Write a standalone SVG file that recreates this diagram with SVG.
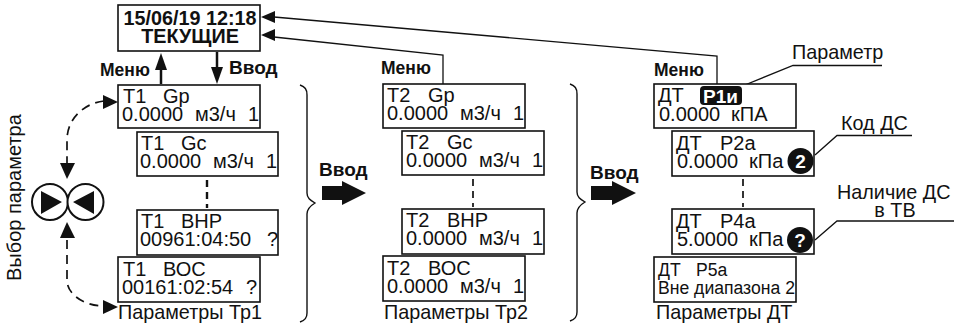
<svg xmlns="http://www.w3.org/2000/svg" width="956" height="326" viewBox="0 0 956 326">
<style>
text{font-family:"Liberation Sans",Arial,sans-serif;fill:#111}
.b{fill:#fff;stroke:#111;stroke-width:1.6}
.t{font-size:20px}
.m{font-size:19.8px}
.k{font-size:17.500px;font-weight:bold}
.v{font-size:19px;font-weight:bold}
.h1{font-size:19.8px;font-weight:bold}
.l{fill:none;stroke:#111;stroke-width:1.3}
.d{fill:none;stroke:#111;stroke-width:1.7;stroke-dasharray:9 6}
.w{fill:#fff;font-weight:bold;font-size:19px}
.s{font-size:17.6px}
</style>
<defs>
<path id="brace" d="M0 0C5 2 7 4 7 10V108C7 113 10 115 15 118C10 121 7 124 7 129V228C7 233 5 235 0 237" fill="none" stroke="#111" stroke-width="1.4"/>
</defs>
<g id="connectors">
<path class="l" d="M274 17L717 56V84"/>
<path class="l" d="M274 37L443 55V84"/>
<path d="M261 17L275 11L275 23Z" fill="#111"/>
<path d="M261 35L275 29L275 41Z" fill="#111"/>
<path d="M161 84V60" stroke="#111" stroke-width="2.500"/><path d="M161 53L155 70H167Z" fill="#111"/>
<path d="M217 52V70" stroke="#111" stroke-width="2.500"/><path d="M217 84L211 67H223Z" fill="#111"/>
<path class="d" d="M104 101C85 103 67 118 67 140V166"/><path d="M118 102L103 95V109Z" fill="#111"/>
<path d="M67 179L60 163H75Z" fill="#111"/>
<path class="d" d="M67 240V280C67 295 85 306 104 306"/><path d="M67 222L60 238H75Z" fill="#111"/>
<path d="M118 307L103 300V314Z" fill="#111"/>
<path class="d" d="M207 180V208" style="stroke-width:2.400;stroke-dasharray:7 5"/>
<path class="d" d="M473 179V207" style="stroke-dasharray:7 5"/>
<path class="d" d="M743 179V207" style="stroke-dasharray:7 5"/>
<path d="M322 186H342V181L366 193L342 205V200H322Z" fill="#111"/>
<path d="M591 186H612V181L636 193L612 205V200H591Z" fill="#111"/>
<path class="l" d="M740 87L793 65.500H882"/>
<path class="l" d="M815 155L837 135.500H912"/>
<path class="l" d="M815 240L837 221H954"/>
</g>
<g id="brace1"><use href="#brace" transform="translate(300,85)"/></g>
<g id="brace2"><use href="#brace" transform="translate(570,84)"/></g>
<g id="main"><rect class="b" x="118" y="5" width="142" height="46"/>
<text class="h1" x="190" y="25" text-anchor="middle">15/06/19 12:18</text>
<text class="h1" x="190" y="43" text-anchor="middle">ТЕКУЩИЕ</text></g>
<g id="labels-top">
<text class="k" x="100" y="76">Меню</text>
<text class="v" x="229" y="74">Ввод</text>
<text class="k" x="381" y="74">Меню</text>
<text class="v" x="319" y="176">Ввод</text>
<text class="v" x="590" y="179">Ввод</text>
<text class="k" x="654" y="76">Меню</text>
</g>
<text id="side" transform="translate(21,281) rotate(-90)" style="font-size:20px">Выбор параметра</text>
<g id="selector"><circle cx="50" cy="202" r="18" fill="#fff" stroke="#111" stroke-width="2"/><circle cx="85.500" cy="202" r="18" fill="#fff" stroke="#111" stroke-width="2"/><path d="M41 191V214L62 202ZM94 191V214L73 202Z" fill="#111"/></g>
<g id="t1gp"><rect class="b" x="118" y="85" width="142" height="43"/><text class="t" y="103"><tspan x="123">Т1</tspan><tspan x="163">Gр</tspan></text><text class="t" y="121"><tspan x="122">0.0000</tspan><tspan x="195">м3/ч</tspan><tspan x="248">1</tspan></text></g>
<g id="t1gc"><rect class="b" x="137" y="132" width="141" height="44"/><text class="t" y="150"><tspan x="141">Т1</tspan><tspan x="181">Gс</tspan></text><text class="t" y="168"><tspan x="140">0.0000</tspan><tspan x="213">м3/ч</tspan><tspan x="266">1</tspan></text></g>
<g id="t1bnr"><rect class="b" x="137" y="210" width="141" height="45"/><text class="t" y="228"><tspan x="141">Т1</tspan><tspan x="181">ВНР</tspan></text><text class="t" y="246"><tspan x="140">00961:04:50</tspan><tspan x="267">?</tspan></text></g>
<g id="t1boc"><rect class="b" x="118" y="257" width="142" height="45"/><text class="t" y="276"><tspan x="123">Т1</tspan><tspan x="163">ВОС</tspan></text><text class="t" y="294"><tspan x="122">00161:02:54</tspan><tspan x="246">?</tspan></text></g>
<g id="t2gp"><rect class="b" x="383" y="84" width="142" height="44"/><text class="t" y="102"><tspan x="387">Т2</tspan><tspan x="428">Gр</tspan></text><text class="t" y="120"><tspan x="387">0.0000</tspan><tspan x="460">м3/ч</tspan><tspan x="513">1</tspan></text></g>
<g id="t2gc"><rect class="b" x="402" y="131" width="142" height="44"/><text class="t" y="149"><tspan x="406">Т2</tspan><tspan x="447">Gс</tspan></text><text class="t" y="167"><tspan x="406">0.0000</tspan><tspan x="479">м3/ч</tspan><tspan x="532">1</tspan></text></g>
<g id="t2bnr"><rect class="b" x="402" y="209" width="142" height="45"/><text class="t" y="227"><tspan x="406">Т2</tspan><tspan x="447">ВНР</tspan></text><text class="t" y="245"><tspan x="406">0.0000</tspan><tspan x="479">м3/ч</tspan><tspan x="532">1</tspan></text></g>
<g id="t2boc"><rect class="b" x="383" y="256" width="142" height="45"/><text class="t" y="275"><tspan x="387">Т2</tspan><tspan x="428">ВОС</tspan></text><text class="t" y="293"><tspan x="387">0.0000</tspan><tspan x="460">м3/ч</tspan><tspan x="513">1</tspan></text></g>
<g id="dtp1"><rect class="b" x="654" y="84" width="142" height="44"/><text class="t" y="102" x="658">ДТ</text><rect x="700" y="86" width="42" height="19" rx="4" fill="#111"/><text class="w" x="703" y="103" style="fill:#fff">Р1и</text><text class="t" y="121"><tspan x="659">0.0000</tspan><tspan x="731">кПА</tspan></text></g>
<g id="dtp2"><rect class="b" x="672" y="131" width="142" height="45"/><text class="t" y="150"><tspan x="676">ДТ</tspan><tspan x="720">Р2а</tspan></text><text class="t" y="168"><tspan x="677">0.0000</tspan><tspan x="749">кПа</tspan></text><circle cx="800.500" cy="161" r="13" fill="#111"/><text class="w" x="800.500" y="168" text-anchor="middle" style="fill:#fff">2</text></g>
<g id="dtp4"><rect class="b" x="672" y="209" width="142" height="45"/><text class="t" y="228"><tspan x="676">ДТ</tspan><tspan x="720">Р4а</tspan></text><text class="t" y="246"><tspan x="677">5.0000</tspan><tspan x="749">кПа</tspan></text><circle cx="800" cy="240" r="13" fill="#111"/><text class="w" x="800" y="247" text-anchor="middle" style="fill:#fff">?</text></g>
<g id="dtp5"><rect class="b" x="654" y="257" width="142" height="45"/><text class="s" y="276"><tspan x="658">ДТ</tspan><tspan x="696">Р5а</tspan></text><text class="s" x="658" y="294">Вне диапазона 2</text></g>
<g id="captions">
<text class="m" x="118" y="319">Параметры Тр1</text>
<text class="m" x="384" y="319">Параметры Тр2</text>
<text class="m" x="656" y="319">Параметры ДТ</text>
<text class="m" x="792" y="59">Параметр</text>
<text class="m" x="841" y="130">Код ДС</text>
<text class="m" x="837" y="199">Наличие ДС</text>
<text class="m" x="895" y="217" text-anchor="middle">в ТВ</text>
</g>
</svg>
